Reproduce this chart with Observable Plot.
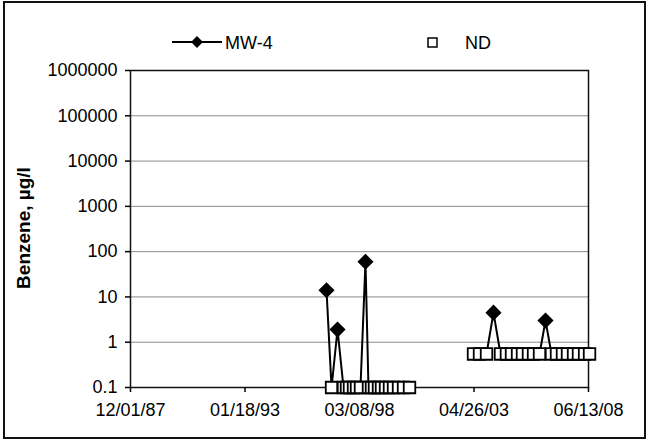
<!DOCTYPE html>
<html>
<head>
<meta charset="utf-8">
<script src="https://cdn.jsdelivr.net/npm/d3@7"></script>
<script src="https://cdn.jsdelivr.net/npm/@observablehq/plot@0.6"></script>
<style>
  html, body { margin: 0; padding: 0; background: white; }
  #wrap { position: relative; width: 648px; height: 444px; overflow: hidden; font-family: "Liberation Sans", Arial, sans-serif; }
  #border { position: absolute; left: 3px; top: 1px; width: 643px; height: 438px; border: 2px solid #111; box-sizing: border-box; pointer-events: none; }
  #ytitle { position: absolute; left: 24px; top: 228px; transform: translate(-50%, -50%) rotate(-90deg); font-weight: bold; font-size: 19px; white-space: nowrap; color: #000; }
  #legend { position: absolute; left: 0; top: 0; }
  #chart { position: absolute; left: 0; top: 0; }
</style>
</head>
<body>
<div id="wrap">
  <div id="chart"></div>
  <svg id="legend" width="648" height="70"></svg>
  <div id="ytitle">Benzene, µg/l</div>
  <div id="border"></div>
</div>
<script>
// ---- data ----
const xTickDates = ["1987-12-01", "1993-01-18", "1998-03-08", "2003-04-26", "2008-06-13"];
const yTickValues = [0.1, 1, 10, 100, 1000, 10000, 100000, 1000000];

// MW-4 detected benzene concentrations (µg/l)
const detectDates = ["1996-09-14", "1997-03-13", "1998-06-14", "2004-03-10", "2006-07-10"];
const detectValues = [14, 1.9, 60, 4.5, 3.0];

// Non-detect samples (plotted at reporting level)
const ndDates = [
  "1996-12-05", "1997-06-19", "1997-08-07", "1997-09-25", "1997-11-30", "1998-01-18", "1998-03-24",
  "1998-08-02", "1998-09-20", "1998-11-08", "1999-01-13", "1999-03-03", "1999-05-08", "1999-07-12",
  "1999-09-16", "1999-12-07", "2000-02-27", "2000-06-04",
  "2003-04-18", "2003-07-25", "2003-11-17", "2004-07-03", "2004-10-08", "2004-12-30", "2005-04-08",
  "2005-06-28", "2005-10-04", "2005-12-26", "2006-04-03", "2006-10-16", "2007-01-06", "2007-04-14",
  "2007-07-05", "2007-10-12", "2008-01-01", "2008-04-10", "2008-06-30"
];
const ndValues = [
  0.1, 0.1, 0.1, 0.1, 0.1, 0.1, 0.1,
  0.1, 0.1, 0.1, 0.1, 0.1, 0.1, 0.1,
  0.1, 0.1, 0.1, 0.1,
  0.55, 0.55, 0.55, 0.55, 0.55, 0.55, 0.55,
  0.55, 0.55, 0.55, 0.55, 0.55, 0.55, 0.55,
  0.55, 0.55, 0.55, 0.55, 0.55
];

// ---- build tables ----
const parse = d3.utcParse("%Y-%m-%d");
const xTicks = xTickDates.map(parse);
const detects = detectDates.map((d, i) => ({date: parse(d), value: detectValues[i]}));
const nds = ndDates.map((d, i) => ({date: parse(d), value: ndValues[i]}));
const all = [...detects, ...nds].sort((a, b) => a.date - b.date);
let seg = 0;
all.forEach((p, i) => {
  if (i > 0 && (p.date - all[i - 1].date) > 400 * 864e5) seg++;
  p.seg = seg;
});

const fmtY = d => d === 0.1 ? "0.1" : String(d);
const diamond = d3.symbolDiamond2 || "diamond";

const chart = Plot.plot({
  width: 648,
  height: 444,
  marginTop: 70,
  marginLeft: 130,
  marginRight: 60,
  marginBottom: 57,
  style: {fontFamily: "'Liberation Sans', Arial, sans-serif", fontSize: "18px", color: "black", background: "transparent", overflow: "visible"},
  x: {type: "utc", domain: [xTicks[0], xTicks[xTicks.length - 1]]},
  y: {type: "log", domain: [0.1, 1000000]},
  marks: [
    Plot.gridY(yTickValues.slice(1, -1), {stroke: "#8a8a8a", strokeOpacity: 1, strokeWidth: 1}),
    Plot.frame({stroke: "#111", strokeWidth: 1.5}),
    Plot.axisY(yTickValues, {tickSize: 5, tickPadding: 8, tickFormat: fmtY, label: null, fill: "black", stroke: "black", strokeWidth: 1.5}),
    Plot.axisX(xTicks, {tickSize: 5, tickPadding: 11, tickFormat: d3.utcFormat("%m/%d/%y"), label: null, fill: "black", stroke: "black", strokeWidth: 1.5}),
    Plot.line(all, {x: "date", y: "value", z: "seg", stroke: "black", strokeWidth: 2}),
    Plot.dot(detects, {x: "date", y: "value", symbol: diamond, r: 6.3, fill: "black", stroke: "black"}),
    Plot.dot(nds, {x: "date", y: "value", symbol: "square", r: 6.5, fill: "white", stroke: "black", strokeWidth: 1.8})
  ]
});
document.getElementById("chart").appendChild(chart);

// ---- legend ----
const lg = d3.select("#legend");
lg.append("line").attr("x1", 172).attr("x2", 222).attr("y1", 42).attr("y2", 42).attr("stroke", "black").attr("stroke-width", 2);
lg.append("path").attr("d", d3.symbol(d3.symbolDiamond2 || d3.symbolDiamond, 90)()).attr("transform", "translate(197,42)").attr("fill", "black");
lg.append("text").attr("x", 225).attr("y", 49).text("MW-4").attr("font-size", 18).attr("font-family", "'Liberation Sans', Arial, sans-serif");
lg.append("rect").attr("x", 428).attr("y", 38).attr("width", 9).attr("height", 9).attr("fill", "white").attr("stroke", "black").attr("stroke-width", 1.5);
lg.append("text").attr("x", 465).attr("y", 49).text("ND").attr("font-size", 18).attr("font-family", "'Liberation Sans', Arial, sans-serif");
</script>
</body>
</html>
